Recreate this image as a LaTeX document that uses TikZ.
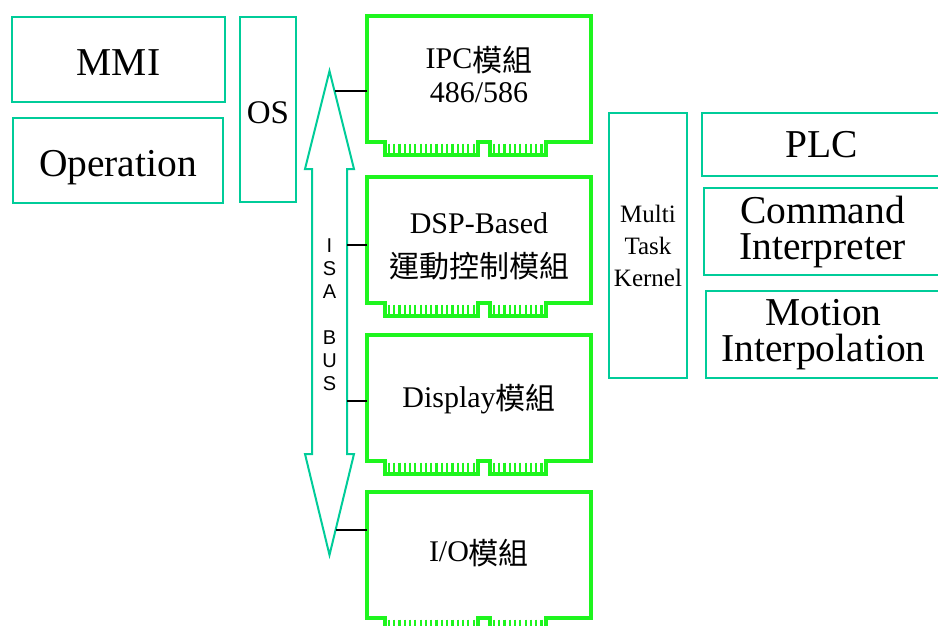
\documentclass[tikz,border=0pt]{standalone}
\usepackage{fontspec}
\setmainfont{Liberation Serif}
\newfontfamily\cjk{Noto Sans CJK TC}
\newfontfamily\busfont{Liberation Sans}
\usetikzlibrary{calc}
\definecolor{boxteal}{RGB}{0,204,153}
\definecolor{cardgreen}{RGB}{30,245,30}
\newcommand{\zh}[1]{\smash{\raisebox{-0.08em}{\cjk #1}}}

% one plug-in card: [text shift], name, top edge, text
\newcommand{\slotcard}[4][0]{%
  \node [card_s] (#2) at (479,#3+63) {};
  \node [card_f] (#2_t) at ([yshift=-#1] #2.center) {#4};
  \draw [card_l] (#2.south west) -- (#2.north west) -- (#2.north east)
    -- (#2.south east) -- ++(-45,0) -- ++(0,13) -- ++(-56,0) -- ++(0,-13)
    -- ++(-12,0) -- ++(0,13) -- ++(-93,0) -- ++(0,-13) -- cycle;
  \foreach \x in {22,27.3,...,108} \draw [pin_l] (#2.south west) ++(\x,1.5) -- ++(0,9.5);
  \foreach \x in {127,132.3,...,176} \draw [pin_l] (#2.south west) ++(\x,1.5) -- ++(0,9.5);
}

\begin{document}
\begin{tikzpicture}[x=1pt,y=-1pt]
\tikzset{
  box_t/.style = {draw=boxteal, line width=2.5pt, rectangle, inner sep=0pt},
  big_f/.style = {font=\fontsize{39.5}{36}\selectfont},
  low_t/.style = {text height=32.5pt, text depth=0.5pt},
  card_s/.style = {rectangle, inner sep=0pt, minimum width=224, minimum height=126},
  card_f/.style = {align=center, inner sep=0pt, font=\fontsize{30}{34}\selectfont},
  card_l/.style = {draw=cardgreen, line width=4pt, line join=miter},
  pin_l/.style = {draw=cardgreen, line width=2.2pt},
  bus_l/.style = {draw=black, line width=2pt}
}
\useasboundingbox (0,0) rectangle (938,626);

% left side
\node [box_t, big_f, low_t, minimum width=213, minimum height=85] (mmi) at (118.5,59.5) {MMI};
\node [box_t, big_f, low_t, minimum width=210, minimum height=85] (oper) at (118,160.5) {Operation};
\node [box_t, font=\fontsize{33}{36}\selectfont, text height=29.5pt, text depth=0.5pt,
  minimum width=56, minimum height=185] (os) at (268,109.5) {OS};

% ISA bus
\draw [draw=boxteal, line width=2pt, line join=miter] (329.5,71) -- (354,169) -- (347,169)
  -- (347,454) -- (354,454) -- (329.5,555) -- (305,454) -- (312,454)
  -- (312,169) -- (305,169) -- cycle;
\node [align=center, font=\busfont\fontsize{20}{23}\selectfont] (isa) at (329.5,315)
  {I\\S\\A\\[23pt]B\\U\\S};

% cards
\slotcard[-3]{ipc}{16}{IPC\zh{模組}\\486/586}
\slotcard[4]{dsp}{177}{DSP-Based\\[7pt]\zh{運動控制模組}}
\slotcard[2]{disp}{335}{Display\zh{模組}}
\slotcard[-3]{io}{492}{I/O\zh{模組}}

\coordinate (b1) at (334.5,91);
\coordinate (b2) at (347,245);
\coordinate (b3) at (347,401);
\coordinate (b4) at (335.6,530);
\draw [bus_l] (b1) -- (b1 -| ipc.west);
\draw [bus_l] (b2) -- (b2 -| dsp.west);
\draw [bus_l] (b3) -- (b3 -| disp.west);
\draw [bus_l] (b4) -- (b4 -| io.west);

% right side
\node [box_t, align=center, font=\fontsize{25}{32}\selectfont, minimum width=78,
  minimum height=265] (mtk) at (648,245.5) {Multi\\Task\\Kernel};
\node [box_t, big_f, minimum width=239, minimum height=63] (plc) at (821.5,144.5) {PLC};
\node [box_t, align=center, big_f, minimum width=237, minimum height=87] (cmd)
  at (822.5,231.5) {Command\\Interpreter};
\node [box_t, align=center, big_f, minimum width=235, minimum height=87] (mot)
  at (823.5,334.5) {Motion\\Interpolation};

\end{tikzpicture}
\end{document}
